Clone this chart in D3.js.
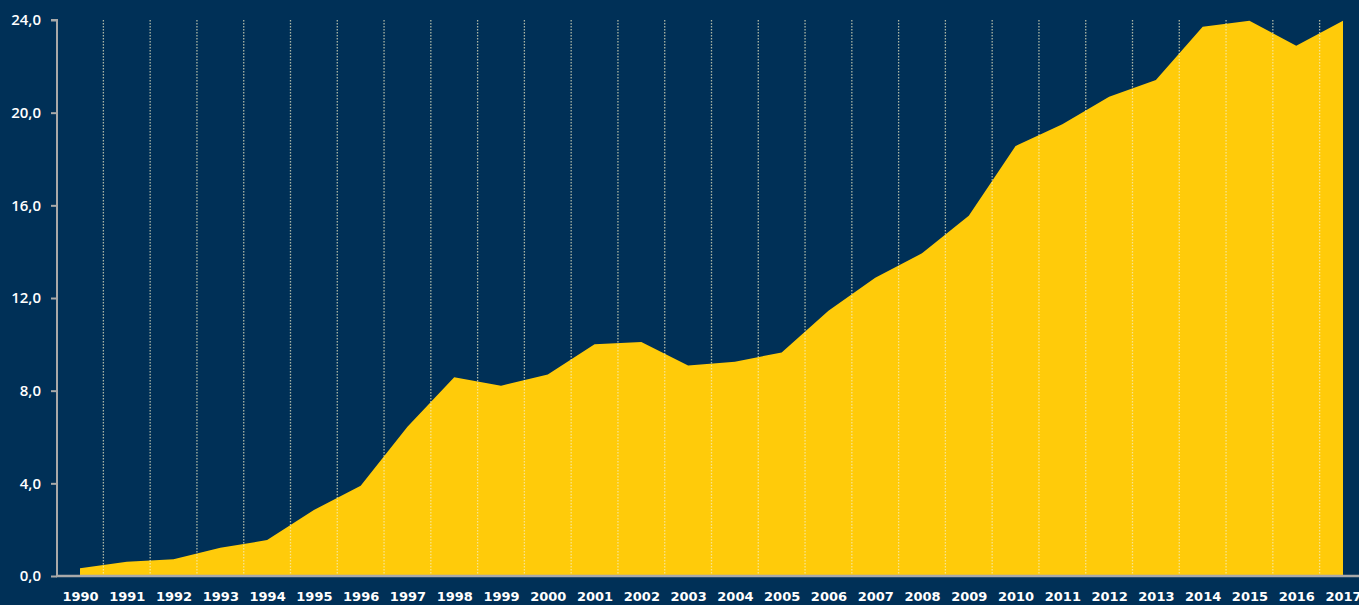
<!DOCTYPE html>
<html>
<head>
<meta charset="utf-8">
<script src="https://cdn.jsdelivr.net/npm/d3@7"></script>
<style>
  html, body { margin: 0; padding: 0; background: #003057; overflow: hidden; }
  svg { display: block; }
</style>
</head>
<body>
<svg id="chart" width="1359" height="605"></svg>
<script>
const years = [1990,1991,1992,1993,1994,1995,1996,1997,1998,1999,2000,2001,2002,2003,2004,2005,2006,2007,2008,2009,2010,2011,2012,2013,2014,2015,2016,2017];
const values = [0.33,0.62,0.72,1.22,1.55,2.85,3.9,6.44,8.58,8.21,8.7,10.0,10.1,9.09,9.25,9.65,11.45,12.87,13.93,15.55,18.56,19.5,20.69,21.41,23.71,23.97,22.89,23.97];
const yTicks = [0,4,8,12,16,20,24];

const W = 1359, H = 605;
const m = { left: 57, top: 20, bottom: 576 };
const svg = d3.select("#chart");

svg.append("rect").attr("width", W).attr("height", H).attr("fill", "#003057");

const x = d3.scaleLinear().domain([1990, 2017]).range([80, 1343]);
const y = d3.scaleLinear().domain([0, 24]).range([m.bottom, m.top]);

const data = years.map((yr, i) => ({ yr, v: values[i] }));

// area
const area = d3.area().x(d => x(d.yr)).y0(y(0)).y1(d => y(d.v));
svg.append("path").datum(data).attr("d", area).attr("fill", "#FFCB0A");

// dotted gridlines at half-year positions
const gridPos = years.slice(0, -1).map(yr => yr + 0.5);
svg.append("g").selectAll("line").data(gridPos).join("line")
  .attr("x1", d => x(d)).attr("x2", d => x(d))
  .attr("y1", y(24)).attr("y2", y(0))
  .attr("stroke", "#f4f0c8").attr("stroke-opacity", 0.7)
  .attr("stroke-width", 1.3).attr("stroke-dasharray", "1.5,1.5");

// y axis
const yAxis = d3.axisLeft(y).tickValues(yTicks).tickSize(6).tickPadding(10)
  .tickFormat(d => d3.format(".1f")(d).replace(".", ","));
const gy = svg.append("g").attr("transform", `translate(${m.left},0)`).call(yAxis);
gy.select(".domain").attr("stroke", "#a9a9a9").attr("stroke-width", 2).attr("d", `M-6,${y(24)}H0V${y(0)}`);
gy.selectAll(".tick line").attr("stroke", "#a9a9a9").attr("stroke-width", 2);
gy.selectAll(".tick text").attr("fill", "#ffffff")
  .style("font-family", "'Open Sans', sans-serif").style("font-size", "15px").style("font-weight", 600);

// x baseline
svg.append("line").attr("x1", m.left - 1).attr("x2", W).attr("y1", y(0)).attr("y2", y(0))
  .attr("stroke", "#a9a9a9").attr("stroke-width", 2.5);

// x labels
const xAxis = d3.axisBottom(x).tickValues(years).tickSize(0).tickPadding(0).tickFormat(d3.format("d"));
const gx = svg.append("g").attr("transform", `translate(0,${y(0)})`).call(xAxis);
gx.select(".domain").remove();
gx.selectAll(".tick text").attr("fill", "#ffffff").attr("dy", null).attr("y", 25)
  .style("font-family", "'DejaVu Sans', sans-serif").style("font-size", "13px").style("font-weight", 700);
</script>
</body>
</html>
